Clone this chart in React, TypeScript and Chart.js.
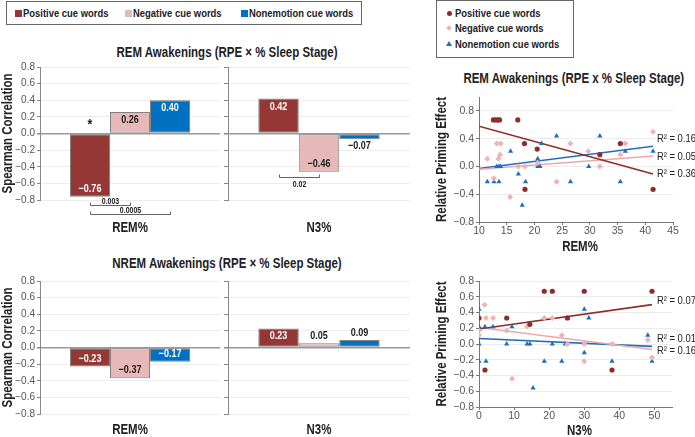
import React, { useEffect, useRef } from 'react';
import { Chart, registerables } from 'chart.js';

Chart.register(...registerables);

const FONT = "'Liberation Sans', Arial, Helvetica, sans-serif";
const NARROW = 0.82; // the reference uses a condensed face; plain text is squeezed to match
Chart.defaults.font.family = FONT;

// ---------- series ----------
const seriesNames = ['Positive cue words', 'Negative cue words', 'Nonemotion cue words'];
const barColors = ['#953735', '#e6b9b8', '#0070c0'];
const barInsideLabelColors = ['#ffffff', '#1a1a1a', '#ffffff'];
const pointColors = ['#8e2e2c', '#f0b2b2', '#1f6fbf'];
const trendColors = ['#8e2e2c', '#e9a9a9', '#1f6fbf'];
const pointShapes = ['circle', 'rectRot', 'triangle'];

// ---------- bar charts: Spearman correlations ----------
const remAwakeRem = [-0.76, 0.26, 0.4];
const remAwakeN3 = [0.42, -0.46, -0.07];
const nremAwakeRem = [-0.23, -0.37, -0.17];
const nremAwakeN3 = [0.23, 0.05, 0.09];

const remSigBrackets = [
  { from: 0, to: 1, label: '0.003', at: -0.857, textAbove: true },
  { from: 0, to: 2, label: '0.0005', at: -0.97, textAbove: true },
];
const n3SigBrackets = [{ from: 0, to: 1, label: '0.02', at: -0.52, textAbove: false }];

// ---------- scatter: REM awakenings vs REM% ----------
const remPctPositive = [
  { x: 12.6, y: 0.67 }, { x: 13.0, y: 0.67 }, { x: 13.4, y: 0.67 }, { x: 13.7, y: 0.67 },
  { x: 17.0, y: 0.67 }, { x: 18.2, y: 0.33 }, { x: 20.5, y: 0.25 }, { x: 18.3, y: -0.33 },
  { x: 31.8, y: 0.17 }, { x: 35.5, y: 0.33 }, { x: 41.4, y: -0.33 },
];
const remPctNegative = [
  { x: 11.5, y: 0.11 }, { x: 12.7, y: -0.17 }, { x: 13.2, y: 0.33 }, { x: 13.9, y: 0.33 },
  { x: 13.5, y: 0.11 }, { x: 13.8, y: 0.17 }, { x: 15.6, y: -0.44 }, { x: 17.1, y: 0.0 },
  { x: 18.3, y: 0.0 }, { x: 20.6, y: 0.05 }, { x: 24.0, y: -0.22 }, { x: 26.5, y: 0.33 },
  { x: 29.7, y: 0.22 }, { x: 31.8, y: 0.0 }, { x: 35.5, y: 0.17 }, { x: 36.4, y: 0.33 },
  { x: 41.4, y: 0.5 },
];
const remPctNonemotion = [
  { x: 11.5, y: -0.22 }, { x: 12.7, y: -0.22 }, { x: 13.6, y: -0.22 }, { x: 13.2, y: 0.0 },
  { x: 13.6, y: 0.0 }, { x: 13.9, y: 0.0 }, { x: 15.7, y: 0.22 }, { x: 17.1, y: -0.11 },
  { x: 17.8, y: -0.56 }, { x: 18.2, y: 0.33 }, { x: 18.4, y: -0.22 }, { x: 20.6, y: 0.0 },
  { x: 21.0, y: 0.0 }, { x: 20.6, y: 0.11 }, { x: 21.3, y: 0.33 }, { x: 24.0, y: 0.44 },
  { x: 26.5, y: -0.22 }, { x: 29.8, y: 0.0 }, { x: 31.8, y: 0.44 }, { x: 35.5, y: -0.22 },
  { x: 36.4, y: 0.22 }, { x: 41.4, y: 0.22 },
];
const remPctTrendPositive = [{ x: 10, y: 0.58 }, { x: 41.4, y: -0.11 }];
const remPctTrendNegative = [{ x: 10, y: -0.04 }, { x: 41.4, y: 0.15 }];
const remPctTrendNonemotion = [{ x: 10, y: -0.03 }, { x: 41.4, y: 0.29 }];
const remPctRSquared = [
  { text: 'R\u00b2 = 0.16', x: 42.1, y: 0.4 },
  { text: 'R\u00b2 = 0.05', x: 42.1, y: 0.14 },
  { text: 'R\u00b2 = 0.36', x: 42.1, y: -0.11 },
];

// ---------- scatter: NREM awakenings vs N3% ----------
const n3PctPositive = [
  { x: 0, y: 0.33 }, { x: 1.7, y: -0.33 }, { x: 7.9, y: 0.33 }, { x: 14.5, y: 0.25 },
  { x: 18.6, y: 0.67 }, { x: 20.9, y: 0.67 }, { x: 25.2, y: 0.33 }, { x: 30.0, y: 0.67 },
  { x: 37.9, y: -0.33 }, { x: 49.3, y: 0.67 },
];
const n3PctNegative = [
  { x: 0, y: 0.17 }, { x: 0, y: 0.11 }, { x: 1.6, y: 0.5 }, { x: 2.0, y: 0.33 },
  { x: 4.0, y: 0.33 }, { x: 7.9, y: 0.17 }, { x: 9.4, y: -0.44 }, { x: 13.7, y: 0.22 },
  { x: 18.6, y: 0.33 }, { x: 20.9, y: 0.33 }, { x: 23.6, y: 0.11 }, { x: 25.2, y: 0.0 },
  { x: 30.0, y: -0.22 }, { x: 30.0, y: 0.0 }, { x: 37.9, y: 0.0 }, { x: 48.1, y: 0.05 },
  { x: 49.3, y: -0.17 },
];
const n3PctNonemotion = [
  { x: 0, y: 0.44 }, { x: 0, y: 0.22 }, { x: 0, y: 0.0 }, { x: 0, y: -0.22 },
  { x: 2.0, y: -0.22 }, { x: 1.7, y: 0.22 }, { x: 4.0, y: 0.22 }, { x: 7.9, y: 0.0 },
  { x: 9.4, y: 0.22 }, { x: 13.7, y: 0.0 }, { x: 14.5, y: 0.0 }, { x: 15.4, y: -0.56 },
  { x: 18.6, y: -0.22 }, { x: 20.9, y: 0.0 }, { x: 23.6, y: -0.22 }, { x: 24.6, y: 0.0 },
  { x: 25.2, y: 0.33 }, { x: 30.0, y: 0.44 }, { x: 30.0, y: -0.11 }, { x: 31.3, y: 0.33 },
  { x: 37.9, y: -0.22 }, { x: 48.1, y: 0.11 }, { x: 49.3, y: -0.22 },
];
const n3PctTrendPositive = [{ x: 0, y: 0.19 }, { x: 49.3, y: 0.5 }];
const n3PctTrendNegative = [{ x: 0, y: 0.21 }, { x: 49.3, y: -0.07 }];
const n3PctTrendNonemotion = [{ x: 0, y: 0.07 }, { x: 49.3, y: -0.03 }];
const n3PctRSquared = [
  { text: 'R\u00b2 = 0.07', x: 50.7, y: 0.55 },
  { text: 'R\u00b2 = 0.01', x: 50.7, y: 0.06 },
  { text: 'R\u00b2 = 0.16', x: 50.7, y: -0.09 },
];

// ---------- helpers ----------
function fmt(v: number, d: number) {
  const s = Math.abs(v).toFixed(d);
  return v < -1e-9 ? '\u2212' + s : s;
}

function drawNarrow(ctx: any, text: string, x: number, y: number, font: string, color: string, align: string, rotate = 0) {
  ctx.save();
  ctx.translate(x, y);
  if (rotate) ctx.rotate(rotate);
  ctx.scale(NARROW, 1);
  ctx.font = font;
  ctx.fillStyle = color;
  ctx.textAlign = align;
  ctx.textBaseline = 'middle';
  ctx.fillText(text, 0, 0);
  ctx.restore();
}

// axis titles drawn in a condensed bold face
function axisTitles(t: { yTitle?: string; yTitleX?: number; xTitle?: string; xTitleY: number; xShift?: number; fromCategory?: boolean }) {
  return {
    id: 'axisTitles',
    afterDraw(chart: any) {
      const ca = chart.chartArea;
      const font = `bold 14px ${FONT}`;
      if (t.yTitle) {
        drawNarrow(chart.ctx, t.yTitle, t.yTitleX || 8, (ca.top + ca.bottom) / 2, font, '#222', 'center', -Math.PI / 2);
      }
      if (t.fromCategory) {
        const xs = chart.scales.x;
        (chart.data.labels || []).forEach((lab: string, i: number) => {
          drawNarrow(chart.ctx, lab, xs.getPixelForValue(i), t.xTitleY, font, '#222', 'center');
        });
      } else if (t.xTitle) {
        drawNarrow(chart.ctx, t.xTitle, (ca.left + ca.right) / 2 + (t.xShift || 0), t.xTitleY, font, '#222', 'center');
      }
    },
  };
}

function barAnnotations(brackets: any[], star: boolean) {
  return {
    id: 'barAnnotations',
    afterDatasetsDraw(chart: any) {
      const ctx = chart.ctx;
      const ys = chart.scales.y;
      chart.data.datasets.forEach((ds: any, di: number) => {
        const meta = chart.getDatasetMeta(di);
        meta.data.forEach((el: any, i: number) => {
          const v = ds.data[i] as number;
          const { x, y, base } = el.getProps(['x', 'y', 'base'], true);
          const dir = v >= 0 ? 1 : -1;
          const h = Math.abs(base - y);
          let ty: number;
          let color: string;
          if (h > 12) {
            ty = y + dir * 8;
            color = barInsideLabelColors[di];
          } else {
            ty = y - dir * 7;
            color = '#1a1a1a';
          }
          drawNarrow(ctx, fmt(v, 2), x, ty, `bold 11px ${FONT}`, color, 'center');
        });
      });
      if (star) {
        const el = chart.getDatasetMeta(0).data[0];
        drawNarrow(ctx, '*', el.x, ys.getPixelForValue(0) - 9, `bold 15px ${FONT}`, '#1a1a1a', 'center');
      }
      brackets.forEach((b) => {
        const x1 = Math.round(chart.getDatasetMeta(b.from).data[0].x) + 0.5;
        const x2 = Math.round(chart.getDatasetMeta(b.to).data[0].x) + 0.5;
        const yy = Math.round(ys.getPixelForValue(b.at)) + 0.5;
        ctx.save();
        ctx.strokeStyle = '#666';
        ctx.lineWidth = 1;
        ctx.beginPath();
        ctx.moveTo(x1, yy - 3);
        ctx.lineTo(x1, yy);
        ctx.lineTo(x2, yy);
        ctx.lineTo(x2, yy - 3);
        ctx.stroke();
        ctx.restore();
        drawNarrow(ctx, b.label, (x1 + x2) / 2, b.textAbove ? yy - 4 : yy + 7, `bold 8.5px ${FONT}`, '#222', 'center');
      });
    },
  };
}

function textLabels(items: { text: string; x: number; y: number }[]) {
  return {
    id: 'textLabels',
    afterDatasetsDraw(chart: any) {
      items.forEach((it) => {
        drawNarrow(
          chart.ctx,
          it.text,
          chart.scales.x.getPixelForValue(it.x),
          chart.scales.y.getPixelForValue(it.y),
          `11.5px ${FONT}`,
          '#222',
          'left'
        );
      });
    },
  };
}

const isZero = (v: number) => Math.abs(v) < 1e-9;

function barConfig(
  values: number[],
  category: string,
  g: { yWidth: number; xHeight: number; padTop: number; padRight: number; labelY: number; showY: boolean; brackets: any[]; star: boolean }
) {
  return {
    type: 'bar',
    data: {
      labels: [category],
      datasets: values.map((v, i) => ({
        label: seriesNames[i],
        data: [v],
        backgroundColor: barColors[i],
        borderColor: 'rgba(90,90,90,0.75)',
        borderWidth: 1,
        borderSkipped: false,
        categoryPercentage: 0.667,
        barPercentage: 1,
      })),
    },
    options: {
      animation: false,
      responsive: false,
      events: [],
      layout: { padding: { left: 0, top: g.padTop, right: g.padRight, bottom: 0 } },
      plugins: { legend: { display: false }, tooltip: { enabled: false } },
      scales: {
        x: {
          grid: { display: false, drawTicks: false },
          border: { display: false },
          ticks: { display: false },
          afterFit: (s: any) => {
            s.height = g.xHeight;
          },
        },
        y: {
          min: -0.8,
          max: 0.8,
          ticks: {
            stepSize: 0.2,
            font: { size: 10 },
            color: '#555',
            padding: 2,
            callback: (v: any) => (g.showY ? fmt(Number(v), 1) : ''),
          },
          grid: {
            color: (c: any) => (c.tick && isZero(c.tick.value) ? '#9a9a9a' : '#ececec'),
            lineWidth: (c: any) => (c.tick && isZero(c.tick.value) ? 1.5 : 1),
            tickLength: g.showY ? 3 : 4,
            tickColor: '#888',
          },
          border: { color: '#888' },
          afterFit: (s: any) => {
            s.width = g.yWidth;
          },
        },
      },
    },
    plugins: [
      barAnnotations(g.brackets, g.star),
      axisTitles({ yTitle: g.showY ? 'Spearman Correlation' : undefined, yTitleX: 8, xTitleY: g.labelY, fromCategory: true }),
    ],
  };
}

function scatterConfig(
  points: { x: number; y: number }[][],
  trends: { x: number; y: number }[][],
  rLabels: { text: string; x: number; y: number }[],
  g: {
    xTitle: string;
    xTitleY: number;
    xMin: number;
    xMax: number;
    xStep: number;
    xTickMax: number;
    yMin: number;
    yMax: number;
    padTop: number;
    padRight: number;
    xHeight: number;
  }
) {
  const datasets: any[] = [];
  points.forEach((data, i) => {
    datasets.push({
      label: seriesNames[i],
      data,
      pointStyle: pointShapes[i],
      pointRadius: i === 0 ? 2.6 : 3,
      backgroundColor: pointColors[i],
      borderColor: pointColors[i],
      borderWidth: 0,
      showLine: false,
    });
  });
  trends.forEach((data, i) => {
    datasets.push({
      label: seriesNames[i] + ' trend',
      data,
      showLine: true,
      pointRadius: 0,
      borderColor: trendColors[i],
      borderWidth: 1.6,
      fill: false,
    });
  });
  return {
    type: 'scatter',
    data: { datasets },
    options: {
      animation: false,
      responsive: false,
      events: [],
      layout: { padding: { left: 4, top: g.padTop, right: g.padRight, bottom: 0 } },
      plugins: { legend: { display: false }, tooltip: { enabled: false } },
      scales: {
        x: {
          type: 'linear',
          min: g.xMin,
          max: g.xMax,
          afterBuildTicks: (s: any) => {
            s.ticks = s.ticks.filter((t: any) => t.value <= g.xTickMax + 1e-9);
          },
          ticks: { stepSize: g.xStep, includeBounds: false, font: { size: 10.5 }, color: '#555', padding: 0 },
          grid: { drawOnChartArea: false, drawTicks: true, tickLength: 3, tickColor: '#777' },
          border: { color: '#777' },
          afterFit: (s: any) => {
            s.height = g.xHeight;
          },
        },
        y: {
          min: g.yMin,
          max: g.yMax,
          ticks: { stepSize: 0.2, font: { size: 10.5 }, color: '#555', padding: 2, callback: (v: any) => fmt(Number(v), 1) },
          grid: { color: '#ececec', tickLength: 3, tickColor: '#777' },
          border: { color: '#777' },
          afterFit: (s: any) => {
            s.width = 45;
          },
        },
      },
    },
    plugins: [
      textLabels(rLabels),
      axisTitles({ yTitle: 'Relative Priming Effect', yTitleX: 12, xTitle: g.xTitle, xTitleY: g.xTitleY, xShift: 4 }),
    ],
  };
}

function ChartCanvas(props: { left: number; top: number; width: number; height: number; make: () => any }) {
  const ref = useRef<HTMLCanvasElement | null>(null);
  useEffect(() => {
    if (!ref.current) return;
    const chart = new Chart(ref.current, props.make());
    return () => chart.destroy();
  }, []);
  return (
    <canvas
      ref={ref}
      width={props.width}
      height={props.height}
      style={{ position: 'absolute', left: props.left, top: props.top, width: props.width, height: props.height }}
    />
  );
}

const abs = (left: number, top: number, extra: any = {}) => ({ position: 'absolute' as const, left, top, ...extra });

export default function App() {
  const textBold = { fontFamily: FONT, fontWeight: 'bold' as const, color: '#222', whiteSpace: 'nowrap' as const };
  const narrowLeft = { transform: `scaleX(${NARROW})`, transformOrigin: 'left center' };
  const narrowCenter = { transform: `scaleX(${NARROW})`, transformOrigin: 'center center' };
  const legendSquares = [15, 125, 241];
  const rightMarkerY = [13, 28, 44];
  const titleStyle = { ...textBold, ...narrowCenter, textAlign: 'center' as const, fontSize: 14, lineHeight: '16px' };
  return (
    <div style={{ position: 'fixed', left: 0, top: 0, width: 695, height: 437, background: '#fff', overflow: 'hidden' }}>
      {/* left legend */}
      <div style={abs(6, 1, { width: 356, height: 24, border: '1px solid #666', boxSizing: 'border-box' })} />
      {seriesNames.map((n, i) => (
        <React.Fragment key={'l' + i}>
          <div style={abs(legendSquares[i], 10, { width: 7, height: 7, background: barColors[i] })} />
          <div style={abs(legendSquares[i] + 8, 5, { ...textBold, ...narrowLeft, fontSize: 11.5, lineHeight: '16px' })}>{n}</div>
        </React.Fragment>
      ))}

      {/* right legend */}
      <div style={abs(436, 0, { width: 138, height: 58, border: '1px solid #666', boxSizing: 'border-box' })} />
      <div style={abs(446.5, rightMarkerY[0] - 2.5, { width: 5, height: 5, borderRadius: '50%', background: pointColors[0] })} />
      <div style={abs(447, rightMarkerY[1] - 2, { width: 4, height: 4, background: pointColors[1], transform: 'rotate(45deg)' })} />
      <div
        style={abs(446, rightMarkerY[2] - 3, {
          width: 0,
          height: 0,
          borderLeft: '3px solid transparent',
          borderRight: '3px solid transparent',
          borderBottom: `5px solid ${pointColors[2]}`,
        })}
      />
      {seriesNames.map((n, i) => (
        <div key={'r' + i} style={abs(455, rightMarkerY[i] - 8, { ...textBold, ...narrowLeft, fontSize: 11.5, lineHeight: '16px' })}>
          {n}
        </div>
      ))}

      {/* titles */}
      <div style={abs(0, 44, { ...titleStyle, width: 454 })}>REM Awakenings (RPE × % Sleep Stage)</div>
      <div style={abs(0, 255, { ...titleStyle, width: 454 })}>NREM Awakenings (RPE × % Sleep Stage)</div>
      <div style={abs(440, 70, { ...titleStyle, width: 260 })}>REM Awakenings (RPE x % Sleep Stage)</div>

      {/* bar charts: REM awakenings */}
      <ChartCanvas
        left={0}
        top={56}
        width={222}
        height={184}
        make={() =>
          barConfig(remAwakeRem, 'REM%', {
            yWidth: 40, xHeight: 40, padTop: 11, padRight: 2, labelY: 172, showY: true, brackets: remSigBrackets, star: true,
          })
        }
      />
      <ChartCanvas
        left={222}
        top={56}
        width={192}
        height={184}
        make={() =>
          barConfig(remAwakeN3, 'N3%', {
            yWidth: 6, xHeight: 40, padTop: 11, padRight: 4, labelY: 172, showY: false, brackets: n3SigBrackets, star: false,
          })
        }
      />
      {/* bar charts: NREM awakenings */}
      <ChartCanvas
        left={0}
        top={270}
        width={222}
        height={167}
        make={() =>
          barConfig(nremAwakeRem, 'REM%', {
            yWidth: 40, xHeight: 23, padTop: 11, padRight: 2, labelY: 160, showY: true, brackets: [], star: false,
          })
        }
      />
      <ChartCanvas
        left={222}
        top={270}
        width={192}
        height={167}
        make={() =>
          barConfig(nremAwakeN3, 'N3%', {
            yWidth: 6, xHeight: 23, padTop: 11, padRight: 4, labelY: 160, showY: false, brackets: [], star: false,
          })
        }
      />

      {/* scatter charts */}
      <ChartCanvas
        left={430}
        top={66}
        width={265}
        height={190}
        make={() =>
          scatterConfig(
            [remPctPositive, remPctNegative, remPctNonemotion],
            [remPctTrendPositive, remPctTrendNegative, remPctTrendNonemotion],
            remPctRSquared,
            { xTitle: 'REM%', xTitleY: 181, xMin: 10, xMax: 45, xStep: 5, xTickMax: 45, yMin: -0.8, yMax: 1.0, padTop: 31, padRight: 22, xHeight: 34 }
          )
        }
      />
      <ChartCanvas
        left={430}
        top={266}
        width={265}
        height={171}
        make={() =>
          scatterConfig(
            [n3PctPositive, n3PctNegative, n3PctNonemotion],
            [n3PctTrendPositive, n3PctTrendNegative, n3PctTrendNonemotion],
            n3PctRSquared,
            { xTitle: 'N3%', xTitleY: 165, xMin: 0, xMax: 55, xStep: 10, xTickMax: 50, yMin: -0.8, yMax: 0.8, padTop: 15, padRight: 23, xHeight: 30 }
          )
        }
      />
    </div>
  );
}
